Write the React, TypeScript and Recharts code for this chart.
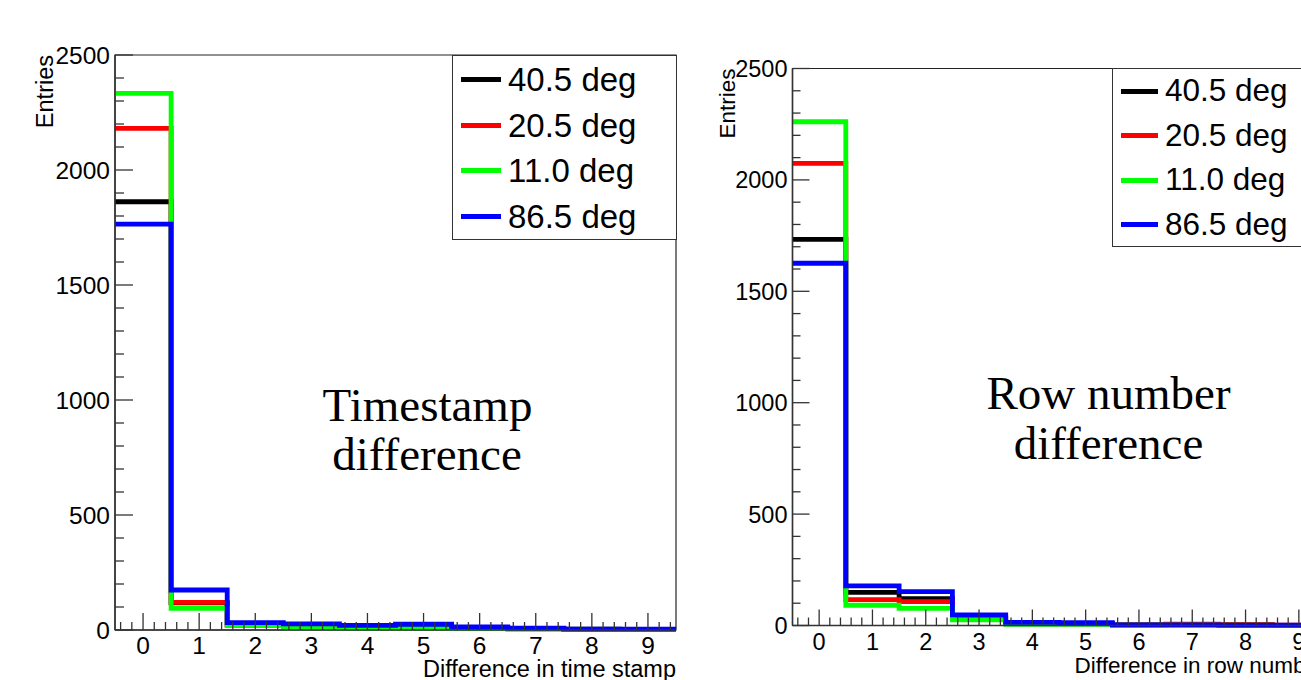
import React from 'react';
import { ComposedChart, Line, XAxis, YAxis, Legend, ReferenceArea } from 'recharts';

// ---- data ----
const binCenters = [0, 1, 2, 3, 4, 5, 6, 7, 8, 9];
const seriesNames = ['40.5 deg', '20.5 deg', '11.0 deg', '86.5 deg'];
const seriesColors = ['#000000', '#ff0000', '#00ff00', '#0000ff'];

// Timestamp difference histogram (entries per bin)
const tsDeg405 = [1862, 118, 22, 20, 16, 20, 11, 6, 4, 3];
const tsDeg205 = [2181, 120, 21, 18, 15, 19, 10, 6, 3, 3];
const tsDeg110 = [2333, 94, 19, 9, 8, 8, 6, 3, 2, 2];
const tsDeg865 = [1765, 174, 32, 27, 20, 25, 13, 8, 4, 4];

// Row number difference histogram (entries per bin)
const rowDeg405 = [1733, 149, 120, 36, 9, 9, 3, 3, 2, 1];
const rowDeg205 = [2074, 116, 107, 31, 9, 8, 3, 6, 5, 2];
const rowDeg110 = [2261, 91, 77, 25, 5, 5, 2, 2, 2, 1];
const rowDeg865 = [1626, 178, 152, 48, 14, 13, 3, 3, 2, 2];

const xMajorTicks = [0, 1, 2, 3, 4, 5, 6, 7, 8, 9];
const yMajorTicks = [0, 500, 1000, 1500, 2000, 2500];
const xDomain: [number, number] = [-0.5, 9.5];
const yDomain: [number, number] = [0, 2500];

// minor tick positions (axis decoration only)
const xAllTicks = Array.from({ length: 50 }, (_, i) => Math.round((-0.4 + i * 0.2) * 10) / 10);
const yAllTicks = Array.from({ length: 26 }, (_, i) => i * 100);

function buildRows(series: number[][]) {
  const rows: any[] = binCenters.map((c, i) => {
    const r: any = { x: c - 0.5 };
    series.forEach((s, k) => (r['s' + k] = s[i]));
    return r;
  });
  const last: any = { x: binCenters[binCenters.length - 1] + 0.5 };
  series.forEach((s, k) => (last['s' + k] = s[s.length - 1]));
  rows.push(last);
  return rows;
}

const tsRows = buildRows([tsDeg405, tsDeg205, tsDeg110, tsDeg865]);
const rowRows = buildRows([rowDeg405, rowDeg205, rowDeg110, rowDeg865]);

const SANS = '"Liberation Sans", Arial, Helvetica, sans-serif';
const SERIF = '"Liberation Serif", "Times New Roman", serif';
const AXIS = '#333333';

type Cfg = {
  left: number;
  width: number;
  height: number;
  marginTop: number;
  marginRight: number;
  yAxisWidth: number;
  xAxisHeight: number;
  font: number;
  titleFont: number;
  xLabelDy: number;
  xTitle: string;
  xTitleDy: number;
  yTitleX: number;
  xMajorLen: number;
  xMinorLen: number;
  yMajorLen: number;
  yMinorLen: number;
  legend: { left: number; top: number; width: number; height: number; font: number; firstRow: number; rowGap: number; lineLeft: number; lineW: number; textLeft: number };
  rows: any[];
};

const makeXTick = (cfg: Cfg) => (props: any) => {
  const { x, y, payload } = props;
  const v = payload.value;
  const isMajor = xMajorTicks.some((m) => Math.abs(m - v) < 1e-6);
  return (
    <g>
      <line x1={x} x2={x} y1={y} y2={y - (isMajor ? cfg.xMajorLen : cfg.xMinorLen)} stroke={AXIS} strokeWidth={1.3} />
      {isMajor && (
        <text x={x} y={y + cfg.xLabelDy} textAnchor="middle" fontSize={cfg.font} fontFamily={SANS} fill="#000">
          {String(Math.round(v))}
        </text>
      )}
    </g>
  );
};

const makeYTick = (cfg: Cfg) => (props: any) => {
  const { x, y, payload } = props;
  const v = payload.value;
  const isMajor = yMajorTicks.includes(v);
  return (
    <g>
      <line x1={x} x2={x + (isMajor ? cfg.yMajorLen : cfg.yMinorLen)} y1={y} y2={y} stroke={AXIS} strokeWidth={1.3} />
      {isMajor && (
        <text x={x - 5} y={y} dy="0.36em" textAnchor="end" fontSize={cfg.font} fontFamily={SANS} fill="#000">
          {String(v)}
        </text>
      )}
    </g>
  );
};

const makeLegend = (cfg: Cfg) => (props: any) => {
  const L = cfg.legend;
  const payload = ((props && props.payload) || [])
    .slice()
    .sort((a: any, b: any) => seriesNames.indexOf(a.value) - seriesNames.indexOf(b.value));
  return (
    <div
      style={{
        position: 'relative',
        width: L.width,
        height: L.height,
        border: '1.3px solid #333',
        background: '#fff',
        boxSizing: 'border-box',
        fontFamily: SANS,
      }}
    >
      {payload.map((p: any, i: number) => (
        <div
          key={i}
          style={{
            position: 'absolute',
            left: 0,
            top: L.firstRow + i * L.rowGap - 20,
            height: 40,
            display: 'flex',
            alignItems: 'center',
            whiteSpace: 'nowrap',
          }}
        >
          <div style={{ marginLeft: L.lineLeft, width: L.lineW, height: 5, background: p.color }} />
          <span style={{ marginLeft: L.textLeft - L.lineLeft - L.lineW, fontSize: L.font, lineHeight: 1, color: '#000' }}>{p.value}</span>
        </div>
      ))}
    </div>
  );
};

function Panel({ cfg }: { cfg: Cfg }) {
  return (
    <div style={{ position: 'absolute', left: cfg.left, top: 0 }}>
      <ComposedChart
        width={cfg.width}
        height={cfg.height}
        data={cfg.rows}
        margin={{ top: cfg.marginTop, right: cfg.marginRight, bottom: 0, left: 0 }}
      >
        <XAxis
          dataKey="x"
          type="number"
          domain={xDomain}
          ticks={xAllTicks}
          interval={0}
          height={cfg.xAxisHeight}
          tickSize={0}
          tickMargin={0}
          tickLine={false}
          axisLine={{ stroke: AXIS, strokeWidth: 1.5 }}
          tick={makeXTick(cfg)}
          allowDecimals
          label={(p: any) => {
            const vb = p.viewBox || {};
            return (
              <text
                x={(vb.x ?? 0) + (vb.width ?? 0)}
                y={(vb.y ?? 0) + cfg.xTitleDy}
                textAnchor="end"
                fontSize={cfg.titleFont}
                fontFamily={SANS}
                fill="#000"
              >
                {cfg.xTitle}
              </text>
            );
          }}
        />
        <YAxis
          type="number"
          domain={yDomain}
          ticks={yAllTicks}
          interval={0}
          width={cfg.yAxisWidth}
          tickSize={0}
          tickMargin={0}
          tickLine={false}
          axisLine={{ stroke: AXIS, strokeWidth: 1.5 }}
          tick={makeYTick(cfg)}
          label={(p: any) => {
            const vb = p.viewBox || {};
            const tx = (vb.x ?? 0) + cfg.yTitleX;
            const ty = vb.y ?? cfg.marginTop;
            return (
              <text
                x={tx}
                y={ty}
                transform={`rotate(-90, ${tx}, ${ty})`}
                textAnchor="end"
                fontSize={cfg.titleFont}
                fontFamily={SANS}
                fill="#000"
              >
                Entries
              </text>
            );
          }}
        />
        <ReferenceArea x1={xDomain[0]} x2={xDomain[1]} y1={yDomain[0]} y2={yDomain[1]} fill="none" stroke="#222" strokeWidth={1.2} />
        {seriesNames.map((n, k) => (
          <Line
            key={n}
            dataKey={'s' + k}
            name={n}
            type="stepAfter"
            stroke={seriesColors[k]}
            strokeWidth={4.8}
            dot={false}
            activeDot={false}
            isAnimationActive={false}
          />
        ))}
        <Legend
          layout="vertical"
          align="center"
          verticalAlign="middle"
          wrapperStyle={{
            position: 'absolute',
            left: cfg.legend.left,
            top: cfg.legend.top,
            width: cfg.legend.width,
            height: cfg.legend.height,
          }}
          content={makeLegend(cfg)}
        />
      </ComposedChart>
    </div>
  );
}

const leftCfg: Cfg = {
  left: 0,
  width: 700,
  height: 680,
  marginTop: 55,
  marginRight: 24,
  yAxisWidth: 115,
  xAxisHeight: 50,
  font: 24.5,
  titleFont: 23.5,
  xLabelDy: 23.5,
  xTitle: 'Difference in time stamp',
  xTitleDy: 46.5,
  yTitleX: 53,
  xMajorLen: 17,
  xMinorLen: 8,
  yMajorLen: 18,
  yMinorLen: 9,
  legend: { left: 452, top: 55, width: 225, height: 185, font: 33, firstRow: 23.5, rowGap: 45.6, lineLeft: 8, lineW: 40, textLeft: 55 },
  rows: tsRows,
};

const rightCfg: Cfg = {
  left: 680,
  width: 660,
  height: 680,
  marginTop: 68.5,
  marginRight: 14.5,
  yAxisWidth: 112.5,
  xAxisHeight: 54.5,
  font: 23.5,
  titleFont: 22.5,
  xLabelDy: 24,
  xTitle: 'Difference in row number',
  xTitleDy: 47.5,
  yTitleX: 55,
  xMajorLen: 16,
  xMinorLen: 8,
  yMajorLen: 17,
  yMinorLen: 8,
  legend: { left: 432, top: 68, width: 230, height: 179, font: 31.5, firstRow: 22, rowGap: 44.5, lineLeft: 8, lineW: 37, textLeft: 52 },
  rows: rowRows,
};

const noteStyle: React.CSSProperties = {
  position: 'absolute',
  width: 400,
  textAlign: 'center',
  fontFamily: SERIF,
  fontSize: 47,
  lineHeight: '47px',
  whiteSpace: 'nowrap',
  color: '#000',
};

export default function App() {
  return (
    <div style={{ position: 'absolute', left: 0, top: 0, width: 1301, height: 680, overflow: 'hidden', background: '#fff' }}>
      <Panel cfg={leftCfg} />
      <Panel cfg={rightCfg} />
      <div style={{ ...noteStyle, left: 227.5, top: 381.5 }}>Timestamp</div>
      <div style={{ ...noteStyle, left: 227, top: 430.5 }}>difference</div>
      <div style={{ ...noteStyle, left: 908.5, top: 369.5 }}>Row number</div>
      <div style={{ ...noteStyle, left: 908.5, top: 419.5 }}>difference</div>
    </div>
  );
}
